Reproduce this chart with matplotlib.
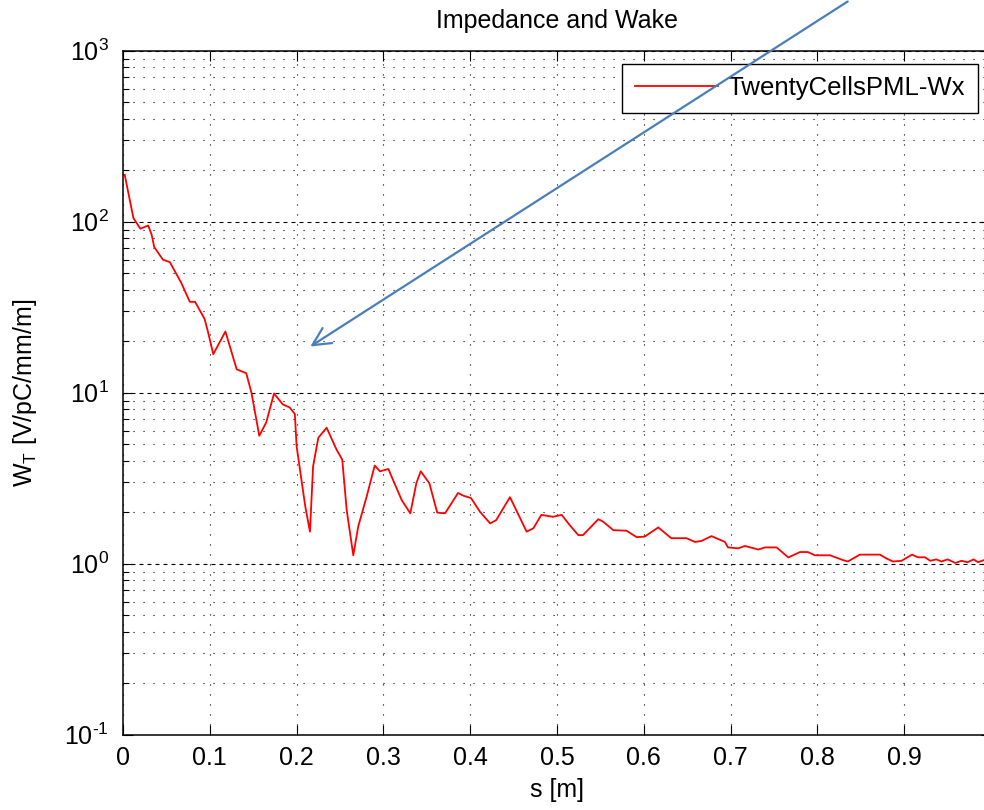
import numpy as np
import matplotlib
matplotlib.use("Agg")
import matplotlib.pyplot as plt
from matplotlib.patches import FancyArrowPatch
from matplotlib.ticker import FuncFormatter

plt.rcParams['font.family'] = ['Liberation Sans', 'DejaVu Sans']
plt.rcParams['mathtext.fontset'] = 'custom'
plt.rcParams['mathtext.rm'] = 'Liberation Sans'
plt.rcParams['mathtext.it'] = 'Liberation Sans'
plt.rcParams['mathtext.default'] = 'regular'
plt.rcParams['axes.unicode_minus'] = False

# ---- data ----
s_m = [0.002, 0.012, 0.020, 0.029, 0.033, 0.036, 0.046, 0.054, 0.067, 0.077,
       0.083, 0.094, 0.098, 0.104, 0.118, 0.131, 0.142, 0.148, 0.157, 0.165,
       0.174, 0.184, 0.192, 0.198, 0.200, 0.210, 0.2154, 0.219, 0.225, 0.2346,
       0.246, 0.2526, 0.2577, 0.2653, 0.271, 0.2807, 0.290, 0.296, 0.3057, 0.321,
       0.331, 0.338, 0.343, 0.353, 0.362, 0.371, 0.386, 0.392, 0.401, 0.411,
       0.423, 0.430, 0.4458, 0.465, 0.4727, 0.482, 0.4954, 0.5054, 0.5147, 0.5245,
       0.530, 0.5476, 0.5533, 0.5649, 0.580, 0.5918, 0.601, 0.6167, 0.6316, 0.649,
       0.659, 0.6666, 0.678, 0.6935, 0.697, 0.7089, 0.7166, 0.7319, 0.7396, 0.753,
       0.7665, 0.780, 0.789, 0.797, 0.8145, 0.8295, 0.835, 0.849, 0.853, 0.872,
       0.880, 0.887, 0.897, 0.901, 0.909, 0.916, 0.924, 0.930, 0.937, 0.943,
       0.950, 0.959, 0.966, 0.973, 0.980, 0.985, 0.992, 0.999]
wake_T = [188, 105, 91, 95, 84, 71, 60, 58, 44, 34,
          34, 27, 22.6, 16.8, 22.8, 13.7, 13.0, 10.0, 5.6, 6.7,
          9.9, 8.55, 8.2, 7.5, 4.87, 2.16, 1.54, 3.71, 5.45, 6.24,
          4.65, 4.06, 2.06, 1.12, 1.65, 2.47, 3.75, 3.47, 3.58, 2.36,
          1.97, 2.96, 3.47, 2.95, 1.99, 1.97, 2.59, 2.50, 2.42, 2.02,
          1.72, 1.80, 2.45, 1.54, 1.61, 1.93, 1.88, 1.93, 1.68, 1.47,
          1.47, 1.82, 1.76, 1.57, 1.56, 1.43, 1.44, 1.63, 1.41, 1.41,
          1.34, 1.36, 1.45, 1.34, 1.245, 1.23, 1.27, 1.21, 1.245, 1.245,
          1.088, 1.17, 1.17, 1.12, 1.12, 1.05, 1.03, 1.13, 1.13, 1.13,
          1.07, 1.03, 1.04, 1.07, 1.13, 1.09, 1.09, 1.04, 1.06, 1.03,
          1.06, 1.01, 1.04, 1.02, 1.06, 1.02, 1.05, 1.03]
series_label = 'TwentyCellsPML-Wx'
x_ticks = [0, 0.1, 0.2, 0.3, 0.4, 0.5, 0.6, 0.7, 0.8, 0.9]
x_tick_labels = ['0', '0.1', '0.2', '0.3', '0.4', '0.5', '0.6', '0.7', '0.8', '0.9']
y_ticks = [1e-1, 1e0, 1e1, 1e2, 1e3]


def decade_label(v, pos):
    e = int(round(np.log10(v)))
    if e < 0:
        return r'$10^{\text{-}%d}$' % (-e)
    return r'$10^{%d}$' % e


fig = plt.figure(figsize=(9.84, 8.10), dpi=100)
ax = fig.add_axes([123/984, 75.3/810, 868/984, 684/810])

ax.semilogy(s_m, wake_T, color='#ff0000', lw=1.3, label=series_label, zorder=3)

ax.set_xlim(0, 1)
ax.set_ylim(1e-1, 1e3)
ax.set_xticks(x_ticks)
ax.set_xticklabels(x_tick_labels)
ax.set_yticks(y_ticks)
ax.yaxis.set_major_formatter(FuncFormatter(decade_label))

ax.grid(True, which='major', axis='x', color='black', lw=0.8, linestyle=(0, (1, 8)))
ax.grid(True, which='major', axis='y', color='black', lw=0.8, linestyle=(0, (3.6, 3.6)))
ax.grid(True, which='minor', axis='y', color='black', lw=0.8, linestyle=(0, (1, 8)))

ax.tick_params(which='both', direction='in', top=True, right=True, width=0.8,
               labelsize=18, colors='black')
ax.tick_params(which='major', length=7)
ax.tick_params(which='minor', length=4)
ax.tick_params(axis='x', which='minor', bottom=False, top=False)
ax.tick_params(axis='y', pad=10)
ax.tick_params(axis='x', pad=8)
for sp in ax.spines.values():
    sp.set_linewidth(1.1)
    sp.set_color('black')

ax.set_title('Impedance and Wake', fontsize=18, pad=16)
ax.set_xlabel('s [m]', fontsize=18, labelpad=6)
ax.set_ylabel('W$_T$ [V/pC/mm/m]', fontsize=18, labelpad=18)

leg = ax.legend(loc='upper right', prop={'size': 18.5}, frameon=True, fancybox=False,
                framealpha=1, edgecolor='black', handlelength=3.2,
                handletextpad=0.4, borderpad=0.5, borderaxespad=0.5)
leg.get_frame().set_linewidth(1.0)

arrow = FancyArrowPatch((850/984, 1.0), (308/984, 1 - 348/810),
                        transform=fig.transFigure, arrowstyle='->',
                        mutation_scale=32, color='#4a7ebb', lw=1.6, zorder=10)
fig.add_artist(arrow)

fig.savefig('out.png', dpi=100, facecolor='white')
